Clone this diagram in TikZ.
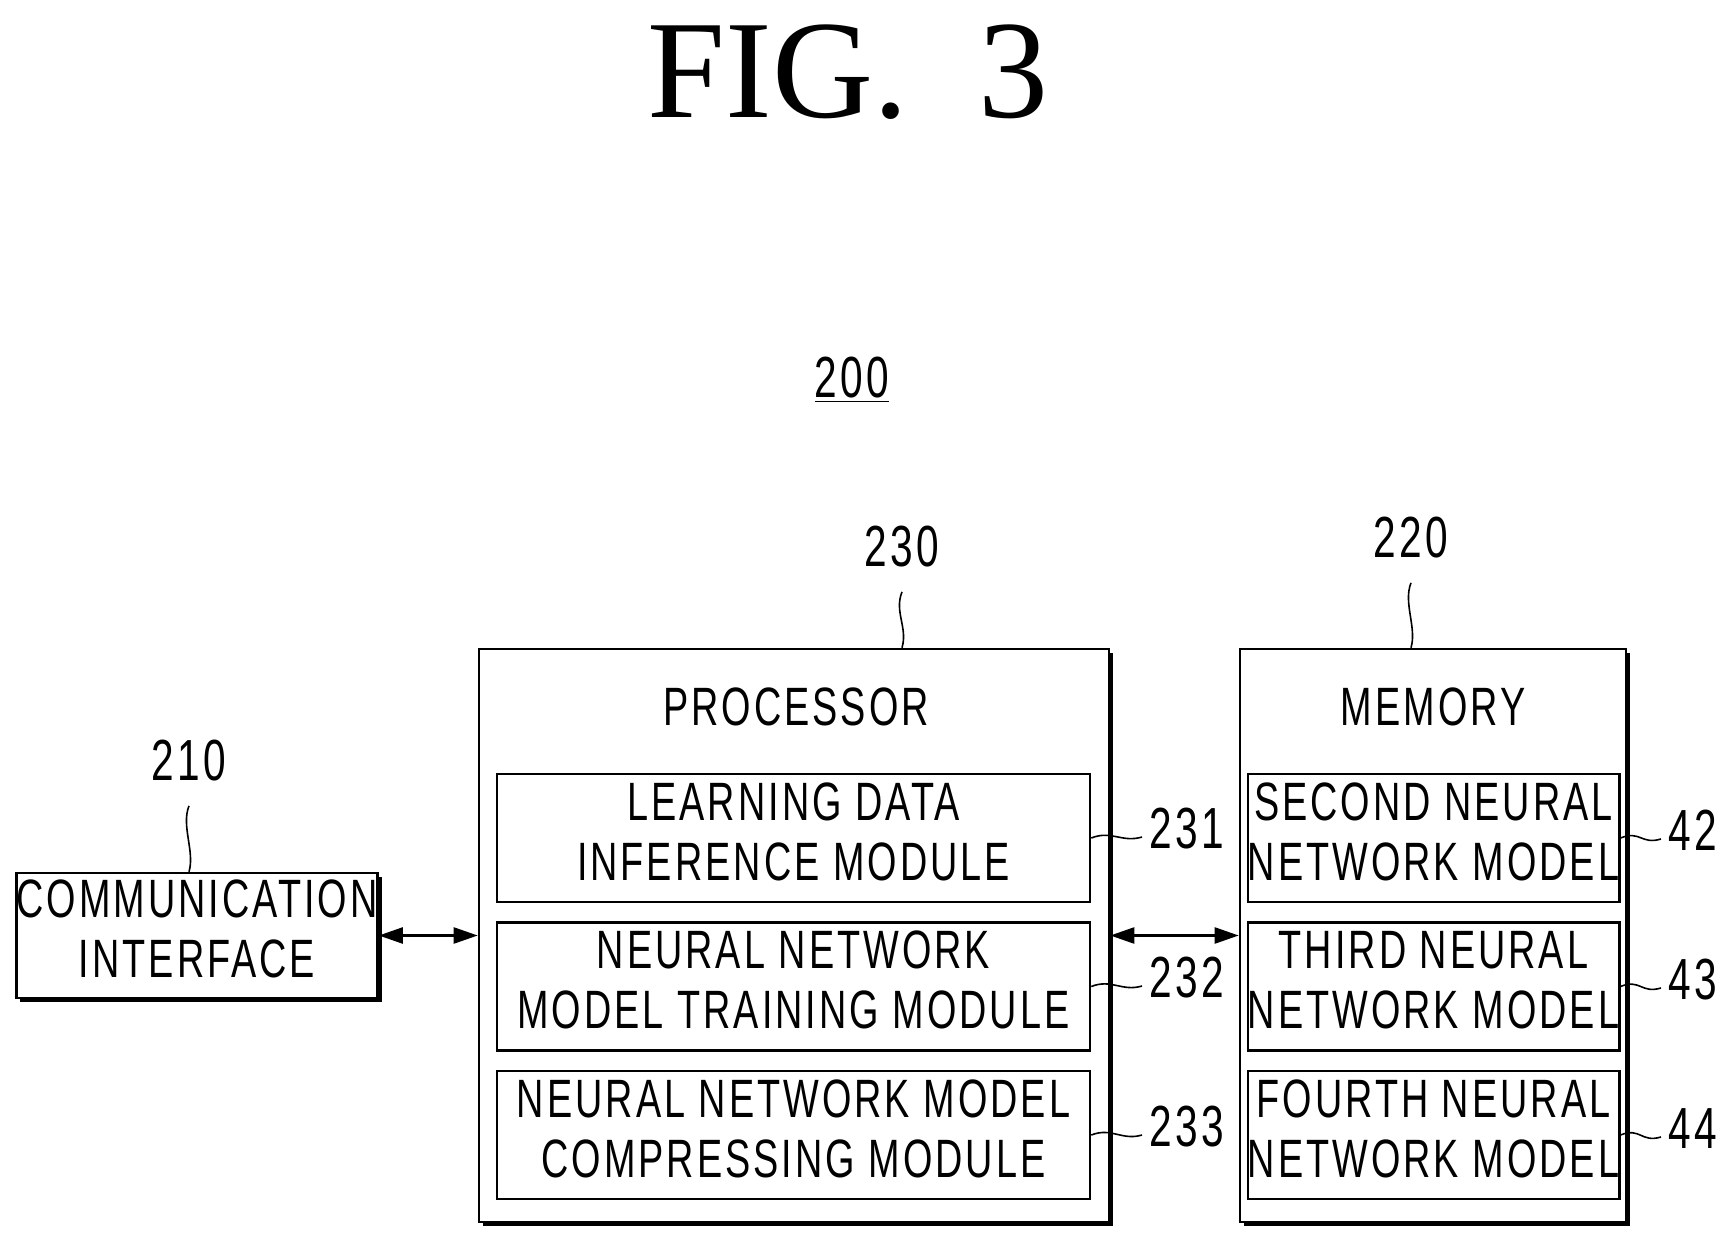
\documentclass[tikz,border=0pt]{standalone}
\usepackage{fontspec}
\usepackage{graphicx}
\setmainfont{Liberation Serif}
\newfontfamily\boxfont[LetterSpace=8]{Liberation Sans}
\newcommand\cond[1]{\scalebox{0.7}[1]{\begin{tabular}{@{}c@{}}#1\end{tabular}}}
\usetikzlibrary{shadows,arrows.meta}

\tikzset{every picture/.style={line width=1.2pt}}
\tikzset{
	blk/.style={draw, fill=white, line width=1.3pt, inner sep=0pt, drop shadow={shadow xshift=2pt, shadow yshift=-2pt, opacity=1, fill=black}},
	sub/.style={draw, line width=1.3pt, inner sep=0pt, minimum height=64pt, align=center, font=\boxfont\fontsize{27}{30}\selectfont},
	num/.style={font=\boxfont\fontsize{29}{29}\selectfont},
	lead/.style={line width=0.8pt}
}

\begin{document}
\begin{tikzpicture}[x=0.5pt,y=0.5pt,yscale=-1]
	\useasboundingbox (0,0) rectangle (1730,1241);

	% Title
	\node (title) at (848,72) {\fontsize{70}{70}\selectfont FIG.\ \ 3};
	\node[num] (dev) at (852,386) {\cond{\underline{200}}};

	% Blocks
	\node[blk, minimum width=175pt, minimum height=62.5pt, align=center, font=\boxfont\fontsize{27}{30}\selectfont] (comm) at (197,935.5) {\cond{COMMUNICATION\\INTERFACE}};
	\node[blk, minimum width=315pt, minimum height=286.5pt] (proc) at (794,935.5) {};
	\node[blk, minimum width=193pt, minimum height=286.5pt] (mem) at (1433,935.5) {};
	\node[font=\boxfont\fontsize{27}{30}\selectfont] (ptitle) at (796,713) {\cond{PROCESSOR}};
	\node[font=\boxfont\fontsize{27}{30}\selectfont] (mtitle) at (1433,713) {\cond{MEMORY}};

	% Processor modules
	\node[sub, minimum width=296.5pt] (learn) at (793.5,838) {\cond{LEARNING DATA\\INFERENCE MODULE}};
	\node[sub, minimum width=296.5pt] (train) at (793.5,986.5) {\cond{NEURAL NETWORK\\MODEL TRAINING MODULE}};
	\node[sub, minimum width=296.5pt] (comp) at (793.5,1135) {\cond{NEURAL NETWORK MODEL\\COMPRESSING MODULE}};

	% Memory models
	\node[sub, minimum width=174.5pt] (second) at (1433.5,838) {\cond{SECOND NEURAL\\NETWORK MODEL}};
	\node[sub, minimum width=174.5pt] (third) at (1433.5,986.5) {\cond{THIRD NEURAL\\NETWORK MODEL}};
	\node[sub, minimum width=174.5pt] (fourth) at (1433.5,1135) {\cond{FOURTH NEURAL\\NETWORK MODEL}};

	% Reference numerals
	\node[num] (n210) at (189,769) {\cond{210}};
	\node[num] (n230) at (902,555) {\cond{230}};
	\node[num] (n220) at (1411,546) {\cond{220}};
	\node[num] (n231) at (1187,837) {\cond{231}};
	\node[num] (n232) at (1187,986) {\cond{232}};
	\node[num] (n233) at (1187,1135) {\cond{233}};
	\node[num] (n42) at (1693,839) {\cond{42}};
	\node[num] (n43) at (1693,988) {\cond{43}};
	\node[num] (n44) at (1693,1137) {\cond{44}};

	% Leader lines
	\draw[lead] (n210.south) .. controls +(-8,20) and +(6,-20) .. (comm.north -| n210.south);
	\draw[lead] (n230.south) .. controls +(-8,20) and +(6,-20) .. (proc.north -| n230.south);
	\draw[lead] (n220.south) .. controls +(-8,20) and +(6,-20) .. (mem.north -| n220.south);
	\foreach \m/\n in {learn/n231, train/n232, comp/n233, second/n42, third/n43, fourth/n44}
		\draw[lead] (\m.east) .. controls +(20,-8) and +(-20,6) .. (\n.west);

	% Connectors
	\draw[{Triangle[length=12pt,width=8pt]}-{Triangle[length=12pt,width=8pt]}] (comm.east) -- (proc.west |- comm.east);
	\draw[{Triangle[length=12pt,width=8pt]}-{Triangle[length=12pt,width=8pt]}] (proc.east) -- (mem.west);
\end{tikzpicture}
\end{document}
